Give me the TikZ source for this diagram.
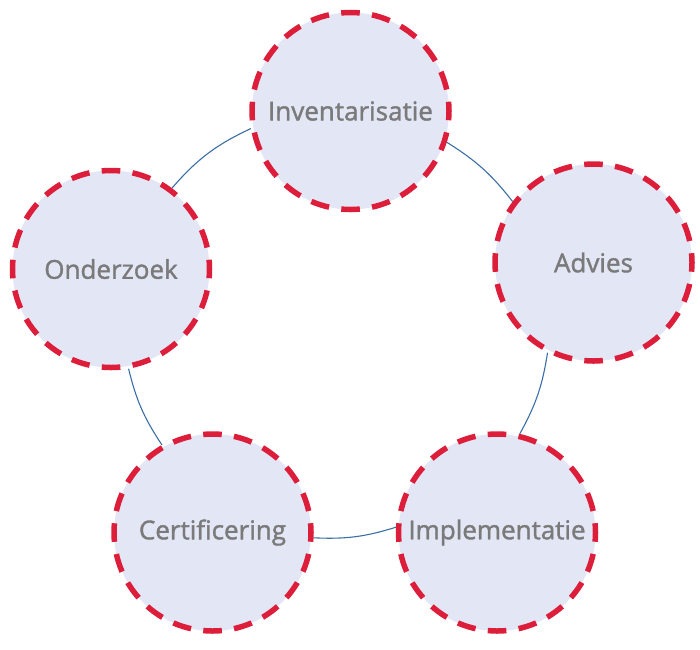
\documentclass[tikz,border=0pt]{standalone}
\usepackage{fontspec}
\setmainfont{Open Sans}
\newfontfamily\phasefont[FakeBold=1.4]{Open Sans}

\definecolor{phasefill}{HTML}{E3E6F4}
\definecolor{phaserim}{HTML}{DC1E3A}
\definecolor{phasetext}{HTML}{7A7A7A}
\definecolor{linkblue}{HTML}{3A6EA5}

\begin{document}
\begin{tikzpicture}[
  x=1pt, y=-1pt,
  phase/.style={draw=phaserim, fill=phasefill, circle, line width=5.5pt,
    dash pattern=on 18.6pt off 12.35pt, dash phase=9.3pt,
    minimum size=197pt, inner sep=0pt, text=phasetext,
    font=\phasefont\fontsize{26}{30}\selectfont},
  link/.style={draw=linkblue, line width=1.1pt}
]
  \useasboundingbox (0,0) rectangle (700,649);

  \node[phase] (inv) at (350.5,111) {Inventarisatie};
  \node[phase] (adv) at (593.5,262.5) {Advies};
  \node[phase] (impl) at (497,532.5) {Implementatie};
  \node[phase] (cert) at (212.5,532.5) {Certificering};
  \node[phase] (ond) at (111,269) {Onderzoek};

  % arcs of the cycle, between the rims
  \path[link]
    (inv.342) edge[bend left=10] (adv.143)
    (adv.243) edge[bend left=10] (impl.77)
    (impl.177) edge[bend left=10] (cert.357)
    (cert.120) edge[bend left=10] (ond.280)
    (ond.53) edge[bend left=12] (inv.190);
\end{tikzpicture}
\end{document}
